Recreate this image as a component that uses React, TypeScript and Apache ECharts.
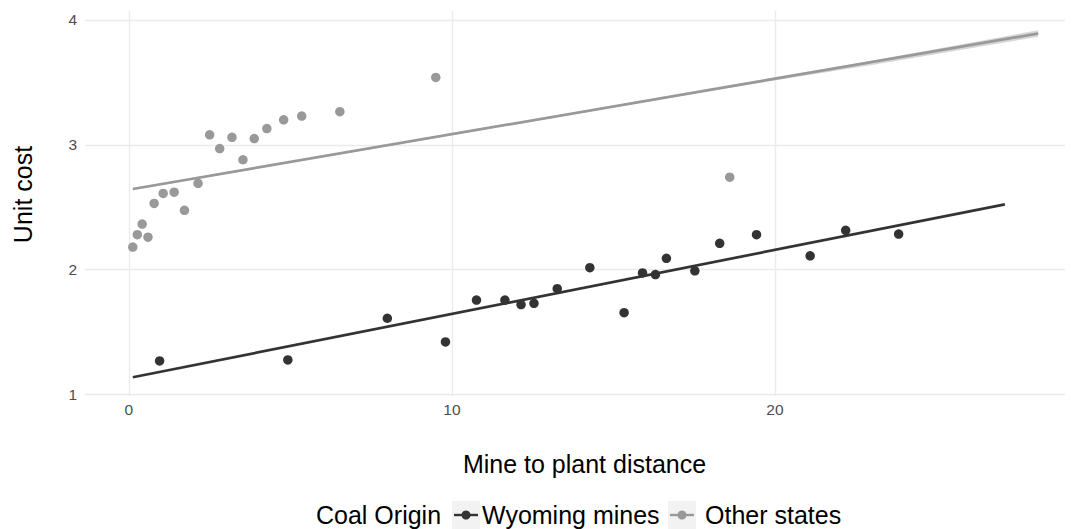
import React, { useEffect, useRef } from "react";
import * as echarts from "echarts";

// Wyoming mines (distance, unit cost)
const wyomingX = [0.95, 4.92, 8.0, 9.8, 10.76, 11.64, 12.14, 12.54, 13.26, 14.27, 15.33, 15.9, 16.3, 16.64, 17.52, 18.29, 19.43, 21.09, 22.19, 23.83];
const wyomingY = [1.268, 1.276, 1.61, 1.42, 1.756, 1.756, 1.72, 1.73, 1.847, 2.015, 1.655, 1.973, 1.96, 2.09, 1.99, 2.21, 2.28, 2.11, 2.315, 2.285];

// Other states (distance, unit cost)
const otherX = [0.12, 0.26, 0.41, 0.59, 0.78, 1.06, 1.4, 1.72, 2.14, 2.5, 2.81, 3.19, 3.53, 3.88, 4.27, 4.79, 5.35, 6.53, 9.5, 18.6];
const otherY = [2.18, 2.28, 2.365, 2.26, 2.53, 2.61, 2.62, 2.475, 2.69, 3.08, 2.97, 3.06, 2.88, 3.05, 3.13, 3.2, 3.23, 3.265, 3.54, 2.74];

// Fitted lines (end points)
const wyomingFitX = [0.12, 27.12];
const wyomingFitY = [1.137, 2.523];
const otherFitX = [0.12, 28.15];
const otherFitY = [2.646, 3.892];

// Confidence ribbon of the "Other states" fit
const otherBandX = [0.12, 10, 18, 23, 28.15];
const otherBandLow = [2.638, 3.076, 3.432, 3.64, 3.866];
const otherBandHigh = [2.654, 3.088, 3.452, 3.674, 3.918];

const xTicks = [0, 10, 20];
const yTicks = [1, 2, 3, 4];

const seriesNames = ["Wyoming mines", "Other states"];
const legendTitle = "Coal Origin";
const xTitle = "Mine to plant distance";
const yTitle = "Unit cost";

const FONT = "'Liberation Sans', Arial, Helvetica, sans-serif";
const DARK = "#333333";
const LIGHT = "#999999";
const TITLE_SIZE = 25;
const TICK_SIZE = 15.5;

const zip = (xs: number[], ys: number[]) => xs.map((x, i) => [x, ys[i]]);

export default function App() {
  const ref = useRef<HTMLDivElement>(null);

  useEffect(() => {
    if (!ref.current) return;
    const chart = echarts.init(ref.current, undefined, { renderer: "svg" });

    const bandData = otherBandX.map((x, i) => [x, otherBandLow[i], otherBandHigh[i]]);

    const legendText = (text: string, x: number) => ({
      type: "text",
      x,
      y: 515,
      style: { text, fontSize: TITLE_SIZE, fontFamily: FONT, fill: "#000000", verticalAlign: "middle", align: "left" },
    });
    const legendKey = (x: number, color: string) => [
      { type: "rect", shape: { x, y: 501, width: 28, height: 28 }, style: { fill: "#f2f2f2" } },
      { type: "line", shape: { x1: x + 2, y1: 515, x2: x + 26, y2: 515 }, style: { stroke: color, lineWidth: 2.4 } },
      { type: "circle", shape: { cx: x + 14, cy: 515, r: 4.5 }, style: { fill: color } },
    ];

    const option: any = {
      animation: false,
      backgroundColor: "#ffffff",
      textStyle: { fontFamily: FONT },
      grid: { left: 85, right: 7, top: 11, bottom: 133, containLabel: false },
      xAxis: {
        type: "value",
        min: -1.36,
        max: 28.98,
        minInterval: 10,
        maxInterval: 10,
        name: xTitle,
        nameLocation: "middle",
        nameGap: 55,
        nameTextStyle: { fontSize: TITLE_SIZE, color: "#000000", fontFamily: FONT, padding: [0, 0, 0, 19] },
        axisLine: { show: false },
        axisTick: { show: false },
        axisLabel: {
          show: true,
          showMinLabel: false,
          showMaxLabel: false,
          margin: 5,
          fontSize: TICK_SIZE,
          color: "#4d4d4d",
          fontFamily: FONT,
          formatter: (v: number) => (xTicks.includes(v) ? String(v) : ""),
        },
        splitLine: {
          show: true,
          showMinLine: false,
          showMaxLine: false,
          lineStyle: { color: "#ebebeb", width: 1.4 },
        },
      },
      yAxis: {
        type: "value",
        min: 0.987,
        max: 4.072,
        minInterval: 1,
        maxInterval: 1,
        name: yTitle,
        nameLocation: "middle",
        nameGap: 50,
        nameTextStyle: { fontSize: TITLE_SIZE, color: "#000000", fontFamily: FONT, padding: [0, 0, 0, 18] },
        axisLine: { show: false },
        axisTick: { show: false },
        axisLabel: {
          show: true,
          showMinLabel: false,
          showMaxLabel: false,
          margin: 8,
          fontSize: TICK_SIZE,
          color: "#4d4d4d",
          fontFamily: FONT,
          formatter: (v: number) => (yTicks.includes(v) ? String(v) : ""),
        },
        splitLine: {
          show: true,
          showMinLine: false,
          showMaxLine: false,
          lineStyle: { color: "#ebebeb", width: 1.4 },
        },
      },
      series: [
        {
          type: "custom",
          name: "band",
          silent: true,
          data: [bandData[0]],
          renderItem: (params: any, api: any) => {
            const upper = bandData.map((d) => api.coord([d[0], d[2]]));
            const lower = bandData.map((d) => api.coord([d[0], d[1]])).reverse();
            return {
              type: "polygon",
              shape: { points: upper.concat(lower) },
              style: { fill: "rgba(153,153,153,0.4)" },
            };
          },
          z: 1,
        },
        {
          type: "line",
          name: seriesNames[1],
          data: zip(otherFitX, otherFitY),
          showSymbol: false,
          symbol: "none",
          lineStyle: { color: LIGHT, width: 2.7 },
          z: 2,
        },
        {
          type: "line",
          name: seriesNames[0],
          data: zip(wyomingFitX, wyomingFitY),
          showSymbol: false,
          symbol: "none",
          lineStyle: { color: DARK, width: 2.7 },
          z: 2,
        },
        {
          type: "scatter",
          name: seriesNames[1],
          data: zip(otherX, otherY),
          symbol: "circle",
          symbolSize: 9.5,
          itemStyle: { color: LIGHT, opacity: 1 },
          z: 3,
        },
        {
          type: "scatter",
          name: seriesNames[0],
          data: zip(wyomingX, wyomingY),
          symbol: "circle",
          symbolSize: 9.5,
          itemStyle: { color: DARK, opacity: 1 },
          z: 3,
        },
      ],
      graphic: [
        legendText(legendTitle, 316),
        ...legendKey(452, DARK),
        legendText(seriesNames[0], 482),
        ...legendKey(668, LIGHT),
        legendText(seriesNames[1], 705),
      ],
    };

    chart.setOption(option);
    return () => {
      chart.dispose();
    };
  }, []);

  return (
    <div
      ref={ref}
      style={{ position: "fixed", left: 0, top: 0, width: 1072, height: 529, background: "#ffffff" }}
    />
  );
}
